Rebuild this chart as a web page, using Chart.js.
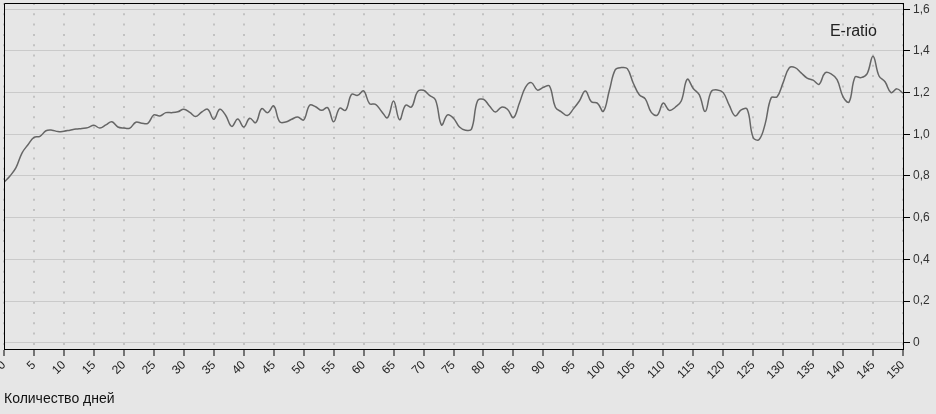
<!DOCTYPE html>
<html><head><meta charset="utf-8">
<script src="https://cdn.jsdelivr.net/npm/chart.js@4/dist/chart.umd.min.js"></script>
<style>html,body{margin:0;padding:0;background:#e6e6e6;overflow:hidden}#wrap{width:936px;height:414px;position:relative}</style>
</head><body><div id="wrap"><canvas id="c" width="936" height="414"></canvas></div>
<script>
const seriesName = 'E-ratio';
const xTitle = 'Количество дней';
const values = [
0.77,0.80,0.84,0.91,0.95,0.985,0.99,1.017,1.02,1.013,
1.015,1.02,1.025,1.028,1.032,1.043,1.03,1.045,1.06,1.035,
1.03,1.03,1.058,1.053,1.053,1.093,1.088,1.104,1.104,1.108,
1.12,1.105,1.085,1.107,1.12,1.072,1.12,1.09,1.038,1.073,
1.035,1.077,1.056,1.123,1.104,1.136,1.06,1.059,1.072,1.083,
1.069,1.14,1.132,1.115,1.128,1.06,1.125,1.115,1.192,1.187,
1.208,1.147,1.144,1.11,1.08,1.16,1.07,1.139,1.131,1.205,
1.211,1.187,1.165,1.045,1.093,1.077,1.035,1.02,1.025,1.16,
1.168,1.136,1.107,1.13,1.12,1.08,1.15,1.225,1.248,1.212,
1.225,1.232,1.13,1.108,1.09,1.122,1.16,1.208,1.156,1.15,
1.11,1.21,1.31,1.32,1.315,1.245,1.19,1.17,1.105,1.092,
1.15,1.115,1.13,1.16,1.264,1.22,1.19,1.11,1.205,1.213,
1.2,1.14,1.088,1.117,1.12,0.985,0.975,1.05,1.175,1.18,
1.248,1.318,1.32,1.295,1.27,1.26,1.24,1.295,1.29,1.262,
1.18,1.155,1.275,1.272,1.29,1.375,1.28,1.252,1.2,1.218,
1.197];
const xTicks = [0,5,10,15,20,25,30,35,40,45,50,55,60,65,70,75,80,85,90,95,100,105,110,115,120,125,130,135,140,145,150];
const yTicks = [0,0.2,0.4,0.6,0.8,1.0,1.2,1.4,1.6];
const yTickLabels = ['0','0,2','0,4','0,6','0,8','1,0','1,2','1,4','1,6'];
const days = values.map((_, i) => i);

const framePlugin = {
  id: 'frame',
  afterDraw(chart) {
    const {ctx, chartArea: a} = chart;
    ctx.save();
    ctx.strokeStyle = '#000';
    ctx.lineWidth = 1;
    ctx.setLineDash([]);
    const l = Math.round(a.left) + 0.5, t = Math.round(a.top) + 0.5;
    const r = Math.round(a.right) + 0.5, b = Math.round(a.bottom) + 0.5;
    ctx.beginPath();
    ctx.rect(l, t, r - l, b - t);
    ctx.stroke();
    ctx.fillStyle = '#222';
    ctx.font = '16px "Liberation Sans", Arial, sans-serif';
    ctx.textAlign = 'right';
    ctx.textBaseline = 'middle';
    ctx.fillText(seriesName, a.right - 26, a.top + 29);
    ctx.restore();
  }
};

new Chart(document.getElementById('c'), {
  type: 'line',
  data: {
    datasets: [{
      label: seriesName,
      data: days.map((d, i) => ({x: d, y: values[i]})),
      borderColor: '#666',
      borderWidth: 1.5,
      pointRadius: 0,
      tension: 0.4,
      fill: false
    }]
  },
  options: {
    responsive: false,
    animation: false,
    devicePixelRatio: 1,
    layout: {padding: {left: 4, top: 3, right: 0, bottom: 0}},
    plugins: {legend: {display: false}, tooltip: {enabled: false}, title: {display: false}},
    scales: {
      x: {
        type: 'linear', min: 0, max: 150, position: 'bottom',
        afterBuildTicks: s => { s.ticks = xTicks.map(v => ({value: v})); },
        afterFit: s => { s.height = 65; s.paddingLeft = 0; s.paddingRight = 0; },
        ticks: {autoSkip: false, minRotation: 45, maxRotation: 45, padding: 2, color: '#222',
          font: {family: '"Liberation Sans", Arial, sans-serif', size: 12}},
        grid: {color: '#c2c2c2', lineWidth: 2, tickColor: '#000', tickBorderDash: [], tickWidth: 1, tickLength: 7},
        border: {display: true, color: '#000', width: 1, dash: [2, 8.3], dashOffset: 0},
        title: {display: true, text: xTitle, align: 'start', color: '#111', padding: {top: 0, bottom: 6},
          font: {family: '"Liberation Sans", Arial, sans-serif', size: 14}}
      },
      y: {
        type: 'linear', position: 'right', min: -0.03, max: 1.63,
        afterBuildTicks: s => { s.ticks = yTicks.map(v => ({value: v})); },
        afterFit: s => { s.width = 33; s.paddingTop = 0; s.paddingBottom = 0; },
        ticks: {color: '#333', padding: 3, callback: (v, i) => yTickLabels[i],
          font: {family: '"Liberation Sans", Arial, sans-serif', size: 12}},
        grid: {color: '#cacaca', lineWidth: 1, tickColor: '#000', tickLength: 7},
        border: {display: true, color: '#000', width: 1}
      }
    }
  },
  plugins: [framePlugin]
});
</script>
</body></html>
